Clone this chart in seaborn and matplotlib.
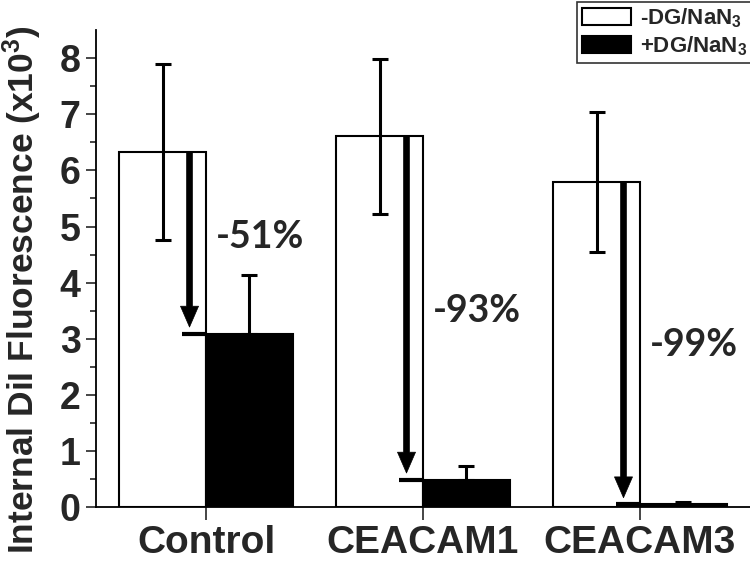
import pandas as pd
import seaborn as sns
import matplotlib.pyplot as plt

# === data (x10^3) ===
groups = ["Control", "CEACAM1", "CEACAM3"]
conditions = ["-DG/NaN$_3$", "+DG/NaN$_3$"]
untreated = [6.33, 6.61, 5.79]
untreated_err = [1.57, 1.38, 1.25]
treated = [3.09, 0.49, 0.05]
treated_err = [1.05, 0.25, 0.04]
drop_labels = ["-51%", "-93%", "-99%"]
drop_label_y = [4.82, 3.50, 2.89]

df = pd.DataFrame({
    "group": groups * 2,
    "condition": [conditions[0]] * 3 + [conditions[1]] * 3,
    "value": untreated + treated,
})

# === style ===
sns.set_style("ticks")
plt.rcParams["font.family"] = ["Liberation Sans", "DejaVu Sans"]
plt.rcParams["font.weight"] = "bold"
plt.rcParams["mathtext.fontset"] = "custom"
plt.rcParams["mathtext.rm"] = "Liberation Sans:bold"
plt.rcParams["mathtext.bf"] = "Liberation Sans:bold"
plt.rcParams["mathtext.default"] = "rm"

fig = plt.figure(figsize=(7.5, 5.82), dpi=100)
ax = fig.add_axes([0.128, 0.1284, 0.872, 0.82])

sns.barplot(data=df, x="group", y="value", hue="condition", order=groups,
            hue_order=conditions, palette=["white", "black"], edgecolor="black",
            linewidth=1.5, errorbar=None, width=0.8, ax=ax)

white_bars = ax.containers[0].patches
black_bars = ax.containers[1].patches

# error bars
wx = [p.get_x() + p.get_width() / 2 for p in white_bars]
bx = [p.get_x() + p.get_width() / 2 for p in black_bars]
ax.errorbar(wx, untreated, yerr=untreated_err, fmt="none", ecolor="black",
            elinewidth=2.2, capsize=6, capthick=2.2, zorder=3)
ax.errorbar(bx, treated, yerr=[[0] * 3, treated_err], fmt="none", ecolor="black",
            elinewidth=2.2, capsize=6, capthick=2.2, zorder=3)

# arrows and percentage labels
for i, p in enumerate(white_bars):
    w = p.get_width()
    ax_x = p.get_x() + 0.81 * w
    ax.plot([p.get_x() + 0.72 * w, p.get_x() + w], [treated[i], treated[i]],
            color="black", lw=3, solid_capstyle="butt", zorder=4)
    ax.annotate("", xy=(ax_x, treated[i] + 0.12), xytext=(ax_x, untreated[i]),
                arrowprops=dict(facecolor="black", edgecolor="black", width=4.2,
                                headwidth=13, headlength=15, lw=0.5, shrink=0),
                zorder=4)
    ax.text(i + 0.25, drop_label_y[i], drop_labels[i], ha="center", va="center",
            fontsize=27, fontweight="bold", family=["Lato", "DejaVu Sans"])

ax.set_xlim(-0.507, 2.507)
ax.set_ylim(0, 8.5)
ax.set_yticks(range(0, 9))
ax.set_yticks([i + 0.5 for i in range(0, 8)], minor=True)
ax.set_xlabel("")
ax.set_ylabel("Internal DiI Fluorescence (x10$^3$)", fontsize=25.5,
              fontweight="bold")
ax.yaxis.set_label_coords(-0.079, 0.455)
ax.tick_params(axis="y", which="major", labelsize=27, length=7, width=1.2, pad=4)
ax.tick_params(axis="y", which="minor", length=4, width=1.2)
ax.tick_params(axis="x", which="major", labelsize=28, length=9, width=1.2, pad=4)
for s in ["left", "bottom"]:
    ax.spines[s].set_linewidth(1.3)
    ax.spines[s].set_color("black")
sns.despine(ax=ax)

leg = ax.legend(loc="upper right", bbox_to_anchor=(1.005, 1.0),
                bbox_transform=fig.transFigure, fontsize=16, frameon=True,
                fancybox=False, handlelength=2.2, handleheight=0.8,
                handletextpad=0.4, borderpad=0.2, labelspacing=0.2,
                borderaxespad=0.1)
leg.get_frame().set_edgecolor("black")
leg.get_frame().set_linewidth(1.2)

plt.savefig("out.png", dpi=100)
